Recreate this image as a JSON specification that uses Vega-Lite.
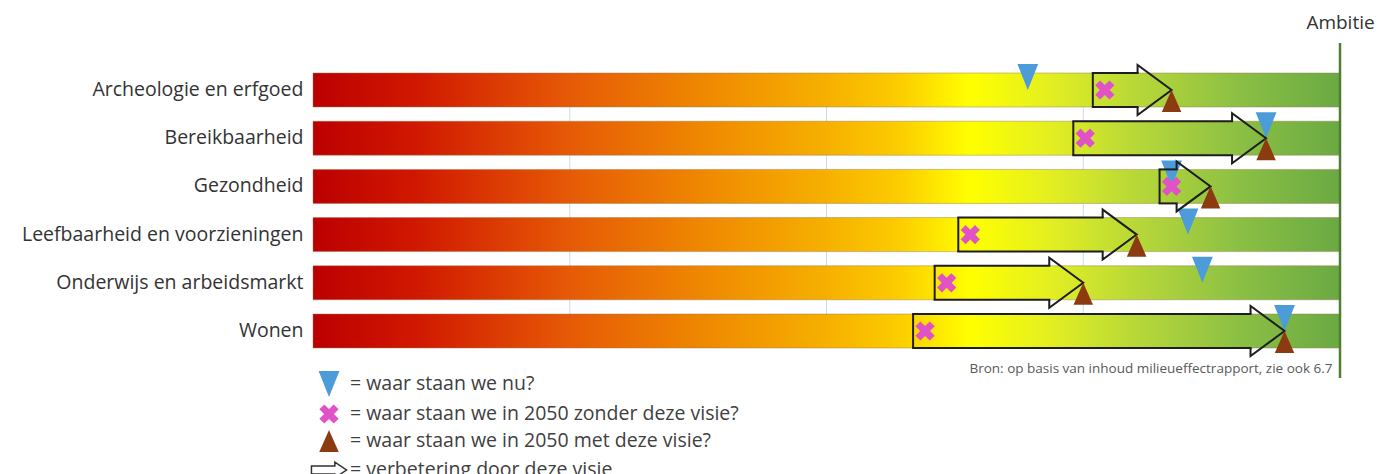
{
  "$schema": "https://vega.github.io/schema/vega-lite/v6.json",
  "width": 1027,
  "height": 335,
  "autosize": "none",
  "padding": {"left": 313, "top": 43, "right": 39, "bottom": 96},
  "background": "white",
  "datasets": {
    "cats": [
      {"cat": "Archeologie en erfgoed", "ambitie": 100},
      {"cat": "Bereikbaarheid", "ambitie": 100},
      {"cat": "Gezondheid", "ambitie": 100},
      {"cat": "Leefbaarheid en voorzieningen", "ambitie": 100},
      {"cat": "Onderwijs en arbeidsmarkt", "ambitie": 100},
      {"cat": "Wonen", "ambitie": 100}
    ],
    "grid": [{"v": 25}, {"v": 50}, {"v": 75}],
    "scores": [
      {"cat": "Archeologie en erfgoed", "type": "nu", "value": 69.6},
      {"cat": "Archeologie en erfgoed", "type": "zonder", "value": 77.1},
      {"cat": "Archeologie en erfgoed", "type": "met", "value": 83.6},
      {"cat": "Bereikbaarheid", "type": "nu", "value": 92.8},
      {"cat": "Bereikbaarheid", "type": "zonder", "value": 75.2},
      {"cat": "Bereikbaarheid", "type": "met", "value": 92.8},
      {"cat": "Gezondheid", "type": "nu", "value": 83.6},
      {"cat": "Gezondheid", "type": "zonder", "value": 83.6},
      {"cat": "Gezondheid", "type": "met", "value": 87.4},
      {"cat": "Leefbaarheid en voorzieningen", "type": "nu", "value": 85.2},
      {"cat": "Leefbaarheid en voorzieningen", "type": "zonder", "value": 64.0},
      {"cat": "Leefbaarheid en voorzieningen", "type": "met", "value": 80.2},
      {"cat": "Onderwijs en arbeidsmarkt", "type": "nu", "value": 86.6},
      {"cat": "Onderwijs en arbeidsmarkt", "type": "zonder", "value": 61.7},
      {"cat": "Onderwijs en arbeidsmarkt", "type": "met", "value": 75.0},
      {"cat": "Wonen", "type": "nu", "value": 94.6},
      {"cat": "Wonen", "type": "zonder", "value": 59.6},
      {"cat": "Wonen", "type": "met", "value": 94.6}
    ]
  },
  "layer": [
    {
      "data": {"name": "grid"},
      "mark": {"type": "rule", "color": "#c9dcef", "strokeWidth": 1, "yOffset": -17, "y2Offset": 17},
      "encoding": {
        "x": {"field": "v", "type": "quantitative", "axis": null},
        "y": {"datum": "Archeologie en erfgoed", "type": "nominal"},
        "y2": {"datum": "Wonen"}
      }
    },
    {
      "data": {"name": "cats"},
      "mark": {
        "type": "bar",
        "fill": {
          "gradient": "linear",
          "x1": 0, "y1": 0, "x2": 1, "y2": 0,
          "stops": [
            {"offset": 0, "color": "#bb0000"},
            {"offset": 0.1, "color": "#d01800"},
            {"offset": 0.25, "color": "#e65a06"},
            {"offset": 0.4, "color": "#f08f00"},
            {"offset": 0.5, "color": "#f6b000"},
            {"offset": 0.57, "color": "#fccc00"},
            {"offset": 0.64, "color": "#ffff00"},
            {"offset": 0.72, "color": "#e2ee22"},
            {"offset": 0.8, "color": "#b8d838"},
            {"offset": 0.9, "color": "#8cc044"},
            {"offset": 1, "color": "#6aa943"}
          ]
        },
        "stroke": "#9a7a50",
        "strokeOpacity": 0.45,
        "strokeWidth": 1
      },
      "encoding": {
        "y": {
          "field": "cat", "type": "nominal", "sort": null,
          "scale": {"domain": ["Archeologie en erfgoed", "Bereikbaarheid", "Gezondheid", "Leefbaarheid en voorzieningen", "Onderwijs en arbeidsmarkt", "Wonen"], "paddingInner": 0.295, "paddingOuter": 0.6225},
          "axis": {
            "title": null, "ticks": false, "domain": false,
            "labelFont": "Open Sans", "labelFontSize": 19.5, "labelColor": "#333333",
            "labelPadding": 10, "labelLimit": 0
          }
        },
        "x": {
          "field": "ambitie", "type": "quantitative",
          "scale": {"domain": [0, 100], "nice": false, "zero": true},
          "axis": {
            "orient": "top", "title": null, "values": [100],
            "labelExpr": "'Ambitie'",
            "labelFlush": false,
            "ticks": false, "domain": false, "grid": false,
            "labelFont": "Open Sans", "labelFontSize": 19, "labelColor": "#333333",
            "labelPadding": 11
          }
        }
      }
    },
    {
      "data": {"name": "scores"},
      "transform": [{"filter": "datum.type === 'nu'"}],
      "mark": {"type": "point", "filled": true, "opacity": 1, "size": 676, "yOffset": -13},
      "encoding": {
        "x": {"field": "value", "type": "quantitative", "axis": null},
        "y": {"field": "cat", "type": "nominal", "sort": null},
        "shape": {
          "field": "type", "type": "nominal",
          "scale": {
            "domain": ["nu", "zonder", "met", "pijl"],
            "range": [
              "M-0.8,-1L0.8,-1L0,1Z",
              "M0,-0.38L0.36,-0.74L0.74,-0.36L0.38,0L0.74,0.36L0.36,0.74L0,0.38L-0.36,0.74L-0.74,0.36L-0.38,0L-0.74,-0.36L-0.36,-0.74Z",
              "M-0.75,0.85L0.75,0.85L0,-0.85Z",
              "M-1.35,-0.3L0.45,-0.3L0.45,-0.6L1.35,0L0.45,0.6L0.45,0.3L-1.35,0.3Z"
            ]
          },
          "legend": {
            "title": null,
            "labelExpr": "datum.label == 'nu' ? '= waar staan we nu?' : datum.label == 'zonder' ? '= waar staan we in 2050 zonder deze visie?' : datum.label == 'met' ? '= waar staan we in 2050 met deze visie?' : '= verbetering door deze visie'",
            "encode": {"symbols": {"update": {"stroke": {"signal": "datum.value === 'pijl' ? '#333333' : 'transparent'"}, "strokeWidth": {"value": 1.5}}}}
          }
        },
        "color": {
          "field": "type", "type": "nominal",
          "scale": {
            "domain": ["nu", "zonder", "met", "pijl"],
            "range": ["#4b9cd8", "#e052c6", "#8c3b10", "#ffffff"]
          },
          "legend": {
            "title": null,
            "labelExpr": "datum.label == 'nu' ? '= waar staan we nu?' : datum.label == 'zonder' ? '= waar staan we in 2050 zonder deze visie?' : datum.label == 'met' ? '= waar staan we in 2050 met deze visie?' : '= verbetering door deze visie'",
            "encode": {"symbols": {"update": {"stroke": {"signal": "datum.value === 'pijl' ? '#333333' : 'transparent'"}, "strokeWidth": {"value": 1.5}}}}
          }
        }
      }
    },
    {
      "data": {"name": "scores"},
      "transform": [{"pivot": "type", "value": "value", "groupby": ["cat"]}],
      "mark": {"type": "rule", "yOffset": -17, "xOffset": -12, "x2Offset": -34, "color": "#1e1e1e", "strokeWidth": 2, "strokeCap": "square"},
      "encoding": {
        "x": {"field": "zonder", "type": "quantitative", "axis": null},
        "x2": {"field": "met"},
        "y": {"field": "cat", "type": "nominal", "sort": null}
      }
    },
    {
      "data": {"name": "scores"},
      "transform": [{"pivot": "type", "value": "value", "groupby": ["cat"]}],
      "mark": {"type": "rule", "yOffset": 17, "xOffset": -12, "x2Offset": -34, "color": "#1e1e1e", "strokeWidth": 2, "strokeCap": "square"},
      "encoding": {
        "x": {"field": "zonder", "type": "quantitative", "axis": null},
        "x2": {"field": "met"},
        "y": {"field": "cat", "type": "nominal", "sort": null}
      }
    },
    {
      "data": {"name": "scores"},
      "transform": [{"filter": "datum.type === 'zonder'"}],
      "mark": {"type": "point", "shape": "M0,-1L0,1", "filled": false, "opacity": 1, "size": 1156, "xOffset": -12, "color": "#1e1e1e", "strokeWidth": 2},
      "encoding": {
        "x": {"field": "value", "type": "quantitative", "axis": null},
        "y": {"field": "cat", "type": "nominal", "sort": null}
      }
    },
    {
      "data": {"name": "scores"},
      "transform": [{"filter": "datum.type === 'met'"}],
      "mark": {"type": "point", "shape": "M-1.36,-0.68L-1.36,-1L0,0L-1.36,1L-1.36,0.68", "filled": false, "opacity": 1, "size": 2500, "color": "#1e1e1e", "strokeWidth": 2, "strokeJoin": "miter"},
      "encoding": {
        "x": {"field": "value", "type": "quantitative", "axis": null},
        "y": {"field": "cat", "type": "nominal", "sort": null}
      }
    },
    {
      "data": {"name": "scores"},
      "transform": [{"filter": "datum.type === 'zonder'"}],
      "mark": {"type": "point", "filled": true, "opacity": 1, "size": 676},
      "encoding": {
        "x": {"field": "value", "type": "quantitative", "axis": null},
        "y": {"field": "cat", "type": "nominal", "sort": null},
        "shape": {"field": "type", "type": "nominal"},
        "color": {"field": "type", "type": "nominal"}
      }
    },
    {
      "data": {"name": "scores"},
      "transform": [{"filter": "datum.type === 'met'"}],
      "mark": {"type": "point", "filled": true, "opacity": 1, "size": 676, "yOffset": 11},
      "encoding": {
        "x": {"field": "value", "type": "quantitative", "axis": null},
        "y": {"field": "cat", "type": "nominal", "sort": null},
        "shape": {"field": "type", "type": "nominal"},
        "color": {"field": "type", "type": "nominal"}
      }
    },
    {
      "data": {"values": [{"ambitie": 100}]},
      "mark": {"type": "rule", "color": "#507e32", "strokeWidth": 2.5},
      "encoding": {
        "x": {
          "field": "ambitie", "type": "quantitative",
          "axis": {
            "orient": "bottom",
            "title": "Bron: op basis van inhoud milieueffectrapport, zie ook 6.7",
            "labels": false, "ticks": false, "domain": false, "grid": false,
            "titleFont": "Open Sans", "titleFontSize": 13.5, "titleFontWeight": "normal",
            "titleColor": "#595959",
            "titleAnchor": null, "titleAlign": "right", "titleBaseline": "middle",
            "titleX": 1019, "titleY": -10
          }
        }
      }
    }
  ],
  "config": {
    "view": {"stroke": null},
    "legend": {
      "orient": "none",
      "legendX": 2,
      "legendY": 327,
      "symbolSize": 676,
      "symbolOpacity": 1,
      "labelFont": "Open Sans",
      "labelFontSize": 19.5,
      "labelColor": "#404040",
      "labelOffset": 7,
      "rowPadding": -2,
      "padding": 0,
      "labelLimit": 0
    }
  }
}
